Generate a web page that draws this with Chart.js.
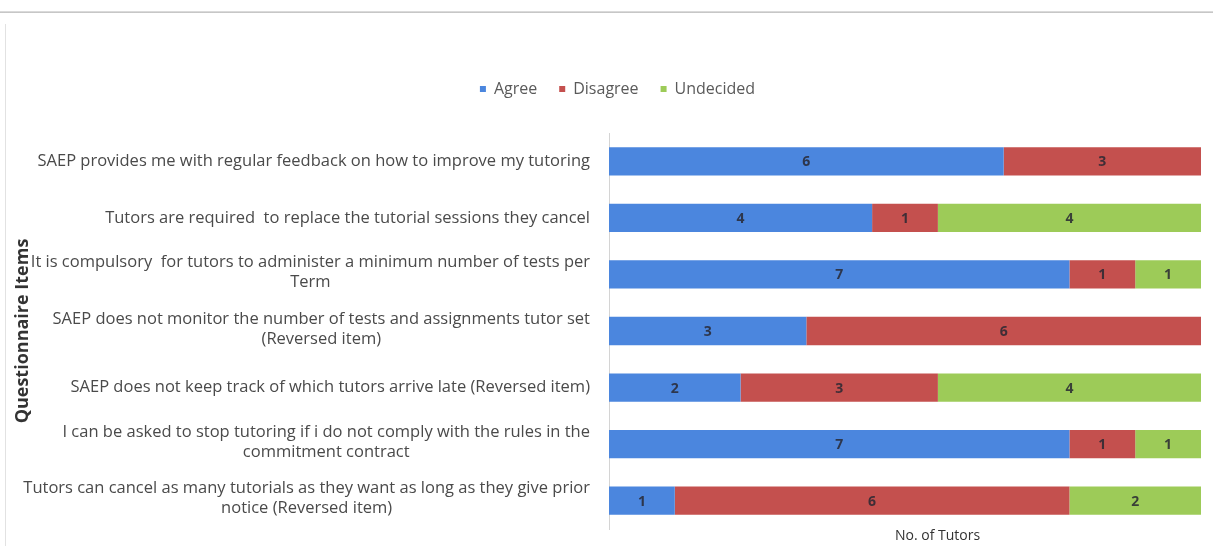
<!DOCTYPE html>
<html>
<head>
<meta charset="utf-8">
<script src="https://cdn.jsdelivr.net/npm/chart.js@4"></script>
<style>
  html, body { margin: 0; padding: 0; background: #fff; }
  #wrap { position: relative; width: 1213px; height: 546px; overflow: hidden; }
  #topline { position: absolute; left: 0; top: 11px; width: 1213px; height: 2px; background: linear-gradient(#e4e4e4, #bdbdbd); }
  #leftline { position: absolute; left: 5px; top: 24px; width: 1px; height: 522px; background: #e2e2e2; }
  canvas { position: absolute; left: 0; top: 0; }
</style>
</head>
<body>
<div id="wrap">
  <div id="topline"></div>
  <div id="leftline"></div>
  <canvas id="c" width="1213" height="546"></canvas>
</div>
<script>
const categories = [
  ["SAEP provides me with regular feedback on how to improve my tutoring"],
  ["Tutors are required  to replace the tutorial sessions they cancel"],
  ["It is compulsory  for tutors to administer a minimum number of tests per", "Term"],
  ["SAEP does not monitor the number of tests and assignments tutor set", "(Reversed item)"],
  ["SAEP does not keep track of which tutors arrive late (Reversed item)"],
  ["I can be asked to stop tutoring if i do not comply with the rules in the", "commitment contract"],
  ["Tutors can cancel as many tutorials as they want as long as they give prior", "notice (Reversed item)"]
];
const agree     = [6, 4, 7, 3, 2, 7, 1];
const disagree  = [3, 1, 1, 6, 3, 1, 6];
const undecided = [0, 4, 1, 0, 4, 1, 2];
const seriesNames = ["Agree", "Disagree", "Undecided"];
const xAxisTitle = "No. of Tutors";
const yAxisTitle = "Questionnaire Items";

const labelFont = '16.5px "Open Sans", sans-serif';

const legendSpacePlugin = {
  id: 'legendSpace',
  beforeLayout(chart) {
    const lg = chart.legend;
    if (lg && !lg._patched) {
      const orig = lg.fit;
      lg.fit = function () { orig.call(this); this.height += 26; };
      lg._patched = true;
    }
  }
};

const catLabelPlugin = {
  id: 'catLabels',
  afterDraw(chart) {
    const ctx = chart.ctx;
    const y = chart.scales.y;
    ctx.save();
    ctx.font = labelFont;
    ctx.fillStyle = '#4a4a4a';
    ctx.textBaseline = 'middle';
    ctx.textAlign = 'center';
    const right = chart.chartArea.left - 19;
    const lh = 20;
    categories.forEach((lines, i) => {
      const cy = y.getPixelForValue(i);
      const w = Math.max(...lines.map(l => ctx.measureText(l).width));
      const cx = right - w / 2;
      const top = cy - (lines.length - 1) * lh / 2 - (lines.length > 1 ? 2 : 0);
      lines.forEach((l, k) => ctx.fillText(l, cx, top + k * lh));
    });
    // x axis title, placed under the plot as in the reference
    ctx.font = '14px "Open Sans", sans-serif';
    ctx.fillStyle = '#333';
    ctx.fillText(xAxisTitle, chart.chartArea.left + (chart.chartArea.right - chart.chartArea.left) * 0.555, chart.chartArea.bottom + 7);
    ctx.restore();
  }
};

const valueLabelPlugin = {
  id: 'valueLabels',
  afterDatasetsDraw(chart) {
    const ctx = chart.ctx;
    ctx.save();
    ctx.font = 'bold 14px "Open Sans", sans-serif';
    ctx.fillStyle = 'rgba(40,40,50,0.85)';
    ctx.textAlign = 'center';
    ctx.textBaseline = 'middle';
    chart.data.datasets.forEach((ds, di) => {
      const meta = chart.getDatasetMeta(di);
      meta.data.forEach((bar, i) => {
        const v = ds.data[i];
        if (!v) return;
        const cx = (bar.x + bar.base) / 2;
        ctx.fillText(String(v), cx, bar.y + 1);
      });
    });
    ctx.restore();
  }
};

new Chart(document.getElementById('c'), {
  type: 'bar',
  data: {
    labels: categories.map(c => c.join(' ')),
    datasets: [
      { label: seriesNames[0], data: agree,     backgroundColor: '#4b86de' },
      { label: seriesNames[1], data: disagree,  backgroundColor: '#c4504e' },
      { label: seriesNames[2], data: undecided, backgroundColor: '#9dcb58' }
    ]
  },
  options: {
    indexAxis: 'y',
    responsive: false,
    animation: false,
    layout: { padding: { top: 59, right: 12, bottom: 1, left: 34 } },
    datasets: { bar: { categoryPercentage: 1.0, barPercentage: 0.5 } },
    plugins: {
      tooltip: { enabled: false },
      legend: {
        position: 'top',
        labels: {
          boxWidth: 6, boxHeight: 6, padding: 22,
          color: '#5a5a5a',
          font: { family: '"Open Sans", sans-serif', size: 16 }
        }
      }
    },
    scales: {
      x: {
        stacked: true, min: 0, max: 9,
        grid: { display: false },
        border: { display: false },
        ticks: { display: false },
        title: { display: false },
        afterFit(s) { s.height = 16; }
      },
      y: {
        stacked: true,
        grid: { display: false },
        border: { display: true, color: '#d4d4d4' },
        ticks: { display: false },
        title: { display: true, text: yAxisTitle, color: '#333', padding: { top: -22, bottom: 0 },
                 font: { family: '"Open Sans", sans-serif', size: 18, weight: 'bold' } },
        afterFit(s) { s.width = 575; }
      }
    }
  },
  plugins: [legendSpacePlugin, catLabelPlugin, valueLabelPlugin]
});
</script>
</body>
</html>
